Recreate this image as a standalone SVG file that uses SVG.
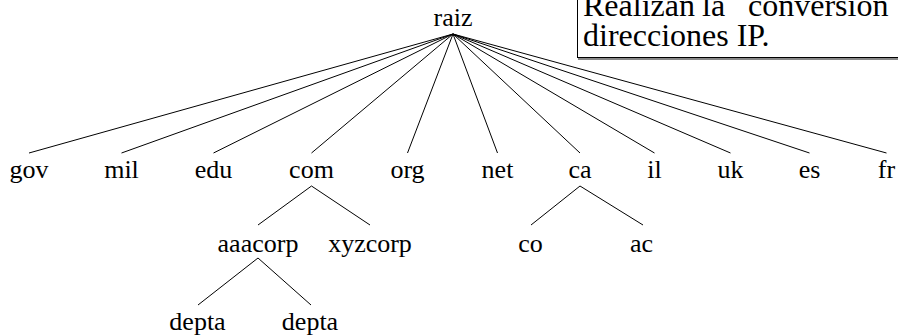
<svg xmlns="http://www.w3.org/2000/svg" width="898" height="336" viewBox="0 0 898 336">
  <style>
    .lbl { font-family: "Liberation Serif", "Times New Roman", serif; font-size: 26px; fill: #000; text-anchor: middle; }
    .note { font-family: "Liberation Serif", "Times New Roman", serif; font-size: 32px; fill: #000; }
    .edge { stroke: #000; stroke-width: 1; fill: none; }
  </style>
  <rect width="898" height="336" fill="#fff"/>

  <!-- callout box, running off the right edge -->
  <g id="note">
    <line x1="578" y1="59" x2="898" y2="59" stroke="#888" stroke-width="2"/>
    <rect x="577.5" y="-10" width="340" height="67.5" fill="#fff" stroke="#000" stroke-width="1"/>
    <text class="note" y="16"><tspan x="583">Realizan</tspan><tspan x="702">la</tspan><tspan x="748">conversión</tspan></text>
    <text class="note" x="583" y="46">direcciones IP.</text>
  </g>

  <g id="connectors">
    <line class="edge" x1="453" y1="34" x2="29" y2="153"/>
    <line class="edge" x1="453" y1="34" x2="121.5" y2="153"/>
    <line class="edge" x1="453" y1="34" x2="213.5" y2="153"/>
    <line class="edge" x1="453" y1="34" x2="311.5" y2="153"/>
    <line class="edge" x1="453" y1="34" x2="407.5" y2="153"/>
    <line class="edge" x1="453" y1="34" x2="497.5" y2="153"/>
    <line class="edge" x1="453" y1="34" x2="580" y2="153"/>
    <line class="edge" x1="453" y1="34" x2="654.5" y2="153"/>
    <line class="edge" x1="453" y1="34" x2="730.5" y2="153"/>
    <line class="edge" x1="453" y1="34" x2="809.5" y2="153"/>
    <line class="edge" x1="453" y1="34" x2="886.5" y2="153"/>
    <line class="edge" x1="311.5" y1="186" x2="258" y2="225"/>
    <line class="edge" x1="311.5" y1="186" x2="370" y2="225"/>
    <line class="edge" x1="580" y1="186" x2="531" y2="225"/>
    <line class="edge" x1="580" y1="186" x2="643" y2="225"/>
    <line class="edge" x1="258" y1="258" x2="198" y2="305"/>
    <line class="edge" x1="258" y1="258" x2="311" y2="305"/>
  </g>

  <g id="raiz"><text class="lbl" x="453" y="26">raiz</text></g>
  <g id="gov"><text class="lbl" x="29" y="178">gov</text></g>
  <g id="mil"><text class="lbl" x="121.5" y="178">mil</text></g>
  <g id="edu"><text class="lbl" x="213.5" y="178">edu</text></g>
  <g id="com"><text class="lbl" x="311.5" y="178">com</text></g>
  <g id="org"><text class="lbl" x="407.5" y="178">org</text></g>
  <g id="net"><text class="lbl" x="497.5" y="178">net</text></g>
  <g id="ca"><text class="lbl" x="580" y="178">ca</text></g>
  <g id="il"><text class="lbl" x="654.5" y="178">il</text></g>
  <g id="uk"><text class="lbl" x="730.5" y="178">uk</text></g>
  <g id="es"><text class="lbl" x="809.5" y="178">es</text></g>
  <g id="fr"><text class="lbl" x="886.5" y="178">fr</text></g>
  <g id="aaacorp"><text class="lbl" x="258" y="252">aaacorp</text></g>
  <g id="xyzcorp"><text class="lbl" x="370" y="252">xyzcorp</text></g>
  <g id="co"><text class="lbl" x="530.5" y="252">co</text></g>
  <g id="ac"><text class="lbl" x="641.5" y="252">ac</text></g>
  <g id="depta-1"><text class="lbl" x="197.5" y="330">depta</text></g>
  <g id="depta-2"><text class="lbl" x="310" y="330">depta</text></g>
</svg>
